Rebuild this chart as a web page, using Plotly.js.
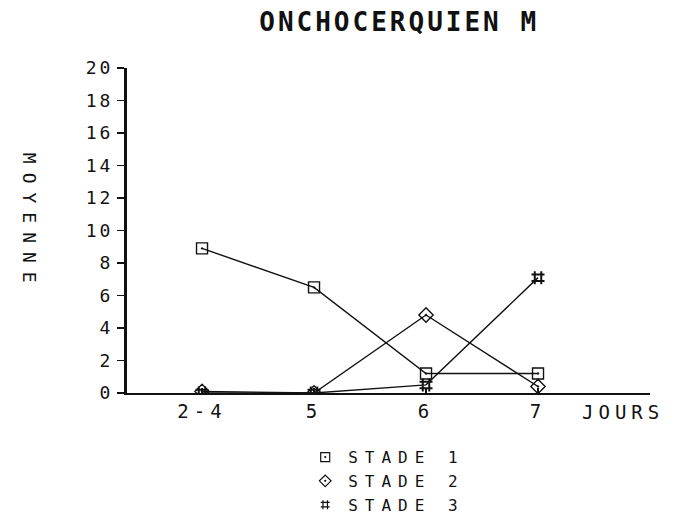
<!DOCTYPE html>
<html><head><meta charset="utf-8">
<script src="https://cdn.plot.ly/plotly-3.0.1.min.js"></script>
<style>
body{margin:0;background:#fff}
.xtick text{letter-spacing:5px}
.ytick text{letter-spacing:3px}
.legendtext{letter-spacing:7px}
.annotation-text{letter-spacing:5px}
.gtitle{letter-spacing:3px}
</style>
</head><body>
<div id="chart" style="width:680px;height:527px"></div>
<script>
const categories = ["2-4", "5", "6", "7"];
const stade1 = [8.9, 6.5, 1.2, 1.2];
const stade2 = [0.1, 0.0, 4.8, 0.4];
const stade3 = [0.0, 0.0, 0.5, 7.1];
const seriesNames = ["STADE 1", "STADE 2", "STADE 3"];
const yTicks = [0, 2, 4, 6, 8, 10, 12, 14, 16, 18, 20];

const xIdx = categories.map((c, i) => i);
const FONT = "DejaVu Sans Mono, Liberation Mono, monospace";
const symbols = ["square-open-dot", "diamond-open-dot", "hash-open"];
const sizes = [11, 11, 13];
const series = [stade1, stade2, stade3];

const traces = [];
series.forEach((s, k) => {
  traces.push({
    x: xIdx, y: s, type: "scatter", mode: "lines+markers",
    showlegend: false,
    line: {color: "#111", width: 1.4},
    marker: {symbol: symbols[k], size: sizes[k], color: "#111", line: {color: "#111", width: k === 2 ? 2 : 1.4}}
  });
});
series.forEach((s, k) => {
  traces.push({
    x: [null], y: [null], type: "scatter", mode: "markers",
    name: seriesNames[k],
    marker: {symbol: symbols[k], size: 9, color: "#111", line: {color: "#111", width: 1.2}}
  });
});

const layout = {
  width: 680, height: 527,
  paper_bgcolor: "#fff", plot_bgcolor: "#fff",
  margin: {l: 127, r: 30, t: 68, b: 134, autoexpand: false},
  font: {family: FONT, color: "#111", size: 19},
  title: {text: "<b>ONCHOCERQUIEN M</b>", font: {family: FONT, size: 26, color: "#111"},
          x: 0.587, xanchor: "center", y: 0.958, yanchor: "middle"},
  xaxis: {
    range: [-0.67, 4.0], tickvals: xIdx, ticktext: categories,
    showgrid: false, zeroline: false, showline: true, linecolor: "#111", linewidth: 2,
    ticks: "inside", ticklen: 5, tickcolor: "#111", tickwidth: 1.5,
    tickfont: {family: FONT, size: 19, color: "#111"}
  },
  yaxis: {
    range: [0, 20], tickvals: yTicks, ticktext: yTicks.map(String),
    showgrid: false, zeroline: false, showline: true, linecolor: "#111", linewidth: 3,
    ticks: "outside", ticklen: 7, tickcolor: "#111", tickwidth: 1.5,
    tickfont: {family: FONT, size: 18, color: "#111"}
  },
  showlegend: true,
  legend: {x: 0.335, y: -0.145, xanchor: "left", yanchor: "top",
           font: {family: FONT, size: 16, color: "#111"},
           bgcolor: "rgba(0,0,0,0)", itemwidth: 36, tracegroupgap: 0},
  annotations: [
    {text: "JOURS", xref: "paper", yref: "paper", x: 0.948, y: -0.058, xanchor: "center", yanchor: "middle",
     showarrow: false, font: {family: FONT, size: 19, color: "#111"}},
    {text: "MOYENNE", xref: "paper", yref: "paper", x: -0.185, y: 0.526, xanchor: "center", yanchor: "middle",
     textangle: 90, showarrow: false, font: {family: FONT, size: 18, color: "#111"}}
  ]
};
Plotly.newPlot("chart", traces, layout, {displayModeBar: false, staticPlot: true});
document.querySelectorAll("#chart .annotation-text").forEach(t => {
  if (t.textContent === "MOYENNE") t.style.letterSpacing = "9px";
});
</script>
</body></html>
